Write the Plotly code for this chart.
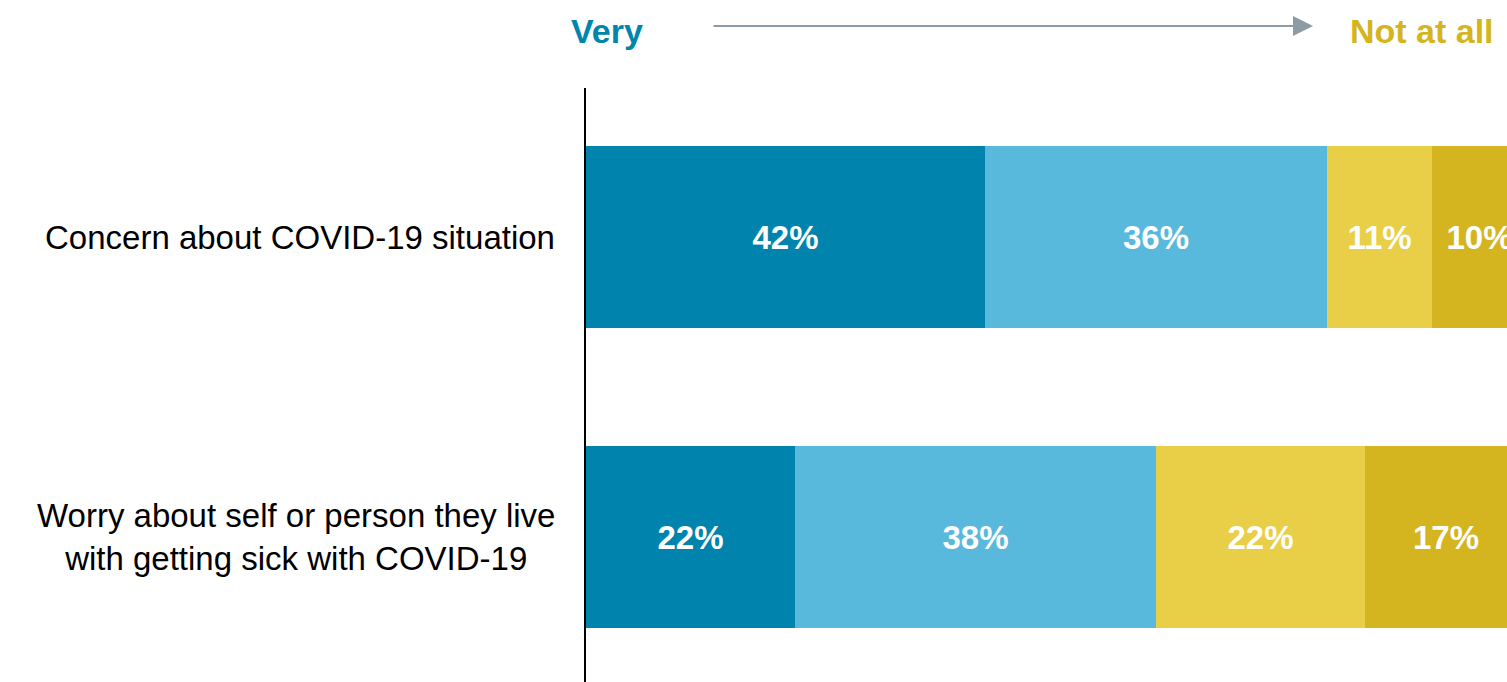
import plotly.graph_objects as go

categories = ["Concern about COVID-19 situation",
              "Worry about self or person they live<br>with getting sick with COVID-19"]
series_names = ["Very", "Somewhat", "Not too", "Not at all"]
very = [42, 22]
somewhat = [36, 38]
not_too = [11, 22]
not_at_all = [10, 17]
colors = ["#0084AD", "#59B9DD", "#E8CF47", "#D4B520"]

FONT = "Liberation Sans, Arial, sans-serif"
ypos = [0, 1]

fig = go.Figure()
for name, vals, col in zip(series_names, [very, somewhat, not_too, not_at_all], colors):
    fig.add_trace(go.Bar(
        x=vals, y=ypos, orientation="h", name=name,
        marker=dict(color=col, line=dict(width=0)),
        width=0.607,
        text=[f"{v}%" for v in vals],
        textposition="inside", insidetextanchor="middle",
        textfont=dict(family=FONT, size=33, color="white", weight="bold"),
        hoverinfo="skip",
    ))

W, H = 1507, 682
L, T = 586, 88
pw = W - L
ph = H - T

fig.update_layout(
    width=W, height=H,
    barmode="stack",
    bargap=0,
    showlegend=False,
    plot_bgcolor="white", paper_bgcolor="white",
    margin=dict(l=L, r=0, t=T, b=0, pad=0),
    uniformtext=dict(mode=False),
    xaxis=dict(range=[0, pw / 9.5], visible=False, fixedrange=True),
    yaxis=dict(range=[1 + (682 - 537) / 300, 0 - (237 - 88) / 300],
               showticklabels=False, showgrid=False, zeroline=False,
               showline=True, linecolor="black", linewidth=2, ticks="",
               fixedrange=True),
)

# category labels
for yv, cat in zip(ypos, categories):
    fig.add_annotation(
        xref="paper", yref="y", x=(557 - L) / pw, y=yv,
        text=cat, showarrow=False, xanchor="right", yanchor="middle",
        align="center", font=dict(family=FONT, size=33, color="black"),
    )

def py(p):
    return (H - p) / ph

def px(p):
    return (p - L) / pw

fig.add_annotation(xref="paper", yref="paper", x=px(607), y=py(31),
                   text="<b>Very</b>", showarrow=False, xanchor="center", yanchor="middle",
                   font=dict(family=FONT, size=34, color="#0085AD"))
fig.add_annotation(xref="paper", yref="paper", x=px(1422), y=py(31),
                   text="<b>Not at all</b>", showarrow=False, xanchor="center", yanchor="middle",
                   font=dict(family=FONT, size=34, color="#D4B520"))
fig.add_annotation(xref="paper", yref="paper", x=px(1313), y=py(26),
                   ax=-(1313 - 712), ay=0, axref="pixel", ayref="pixel",
                   text="", showarrow=True, arrowhead=2, arrowsize=2, arrowwidth=2,
                   arrowcolor="#8C9BA6")

fig.write_html("out.html")
